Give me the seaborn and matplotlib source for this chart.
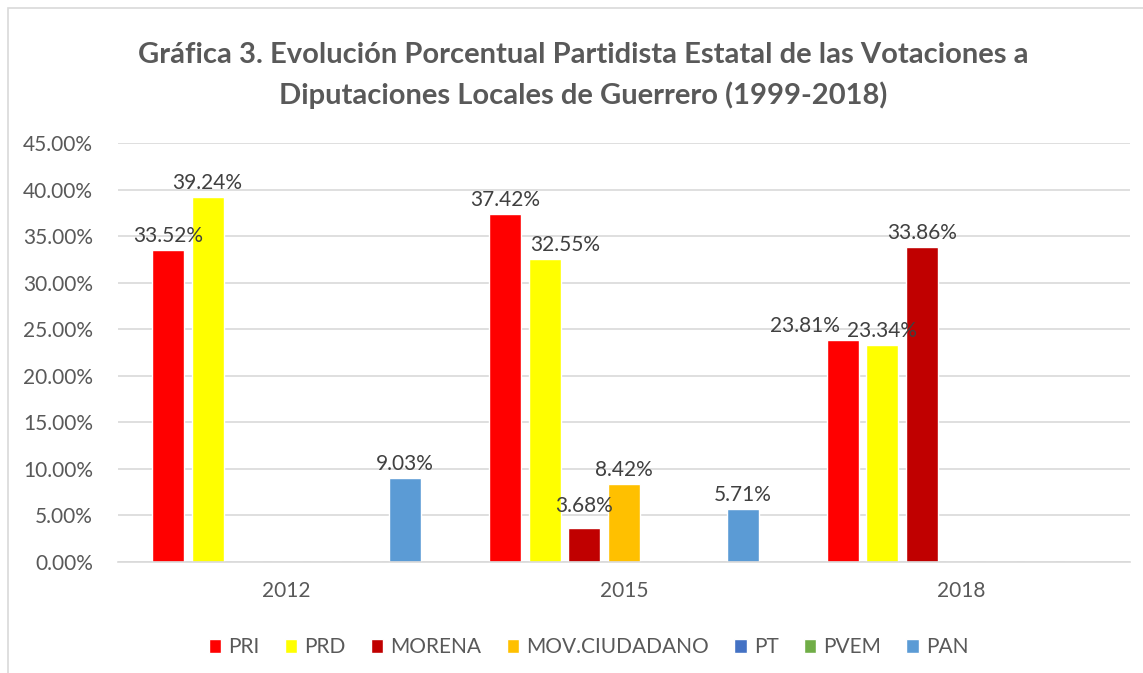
import pandas as pd
import numpy as np
import matplotlib.pyplot as plt
import seaborn as sns
from matplotlib.patches import Rectangle
from matplotlib.ticker import FuncFormatter

# Data (percent of vote)
years = ['2012', '2015', '2018']
parties = ['PRI', 'PRD', 'MORENA', 'MOV.CIUDADANO', 'PT', 'PVEM', 'PAN']
pri = [33.52, 37.42, 23.81]
prd = [39.24, 32.55, 23.34]
morena = [0, 3.68, 33.86]
mov_ciudadano = [0, 8.42, 0]
pt = [0, 0, 0]
pvem = [0, 0, 0]
pan = [9.03, 5.71, 0]
colors = ['#FF0000', '#FFFF00', '#C00000', '#FFC000', '#4472C4', '#70AD47', '#5B9BD5']

values = [pri, prd, morena, mov_ciudadano, pt, pvem, pan]
df = pd.DataFrame([
    {'Year': y, 'Party': p, 'Pct': v[i]}
    for p, v in zip(parties, values)
    for i, y in enumerate(years)
])

sns.set_style('white')
plt.rcParams['font.family'] = ['Lato', 'DejaVu Sans']
grey = '#595959'

fig = plt.figure(figsize=(11.43, 6.73), dpi=100)
ax = fig.add_axes([118 / 1143, 1 - 562 / 673, 1012 / 1143, 419 / 673])

sns.barplot(data=df, x='Year', y='Pct', hue='Party', hue_order=parties,
            palette=colors, width=0.82, gap=0.19, ax=ax, legend=True,
            saturation=1)

ax.set_ylim(0, 45)
ax.set_yticks(np.arange(0, 46, 5))
ax.yaxis.set_major_formatter(FuncFormatter(lambda v, _: f'{v:.2f}%'))
ax.grid(axis='y', color='#D9D9D9', linewidth=1.2)
ax.set_axisbelow(True)
for s in ['top', 'right', 'left']:
    ax.spines[s].set_visible(False)
ax.spines['bottom'].set_color('#D9D9D9')
ax.spines['bottom'].set_linewidth(1.2)
ax.tick_params(axis='both', length=0, labelsize=15, colors=grey)
ax.tick_params(axis='y', pad=18)
ax.tick_params(axis='x', pad=14)
ax.set_xlabel('')
ax.set_ylabel('')

# data labels (skip zero bars); small shifts where labels were moved
shifts = {('MORENA', 1): (0, 8), ('PRI', 2): (-38, 0), ('PRD', 1): (20, 0)}
for party, cont in zip(parties, ax.containers):
    for i, bar in enumerate(cont):
        v = bar.get_height()
        if v <= 0:
            continue
        dx, dy = shifts.get((party, i), (0, 0))
        ax.annotate(f'{v:.2f}%', (bar.get_x() + bar.get_width() / 2, v),
                    xytext=(dx, 4 + dy), textcoords='offset pixels',
                    ha='center', va='bottom', fontsize=15, color='#404040')

ax.legend(loc='upper center', bbox_to_anchor=(0.465, -0.135), ncol=7,
          frameon=False, fontsize=15, handlelength=0.6, handleheight=0.6,
          handletextpad=0.35, columnspacing=1.2, labelcolor=grey)

fig.text(0.51, 1 - 55 / 673, 'Gráfica 3. Evolución Porcentual Partidista Estatal de las Votaciones a',
         ha='center', va='center', fontsize=21, fontweight='bold', color=grey)
fig.text(0.51, 1 - 95 / 673, 'Diputaciones Locales de Guerrero (1999-2018)',
         ha='center', va='center', fontsize=21, fontweight='bold', color=grey)

fig.patches.append(Rectangle((8 / 1143, -0.01), 1.1, 1 - 8 / 673 + 0.01,
                             transform=fig.transFigure, fill=False,
                             edgecolor='#D9D9D9', linewidth=1.2))

fig.savefig('out.png', dpi=100)
